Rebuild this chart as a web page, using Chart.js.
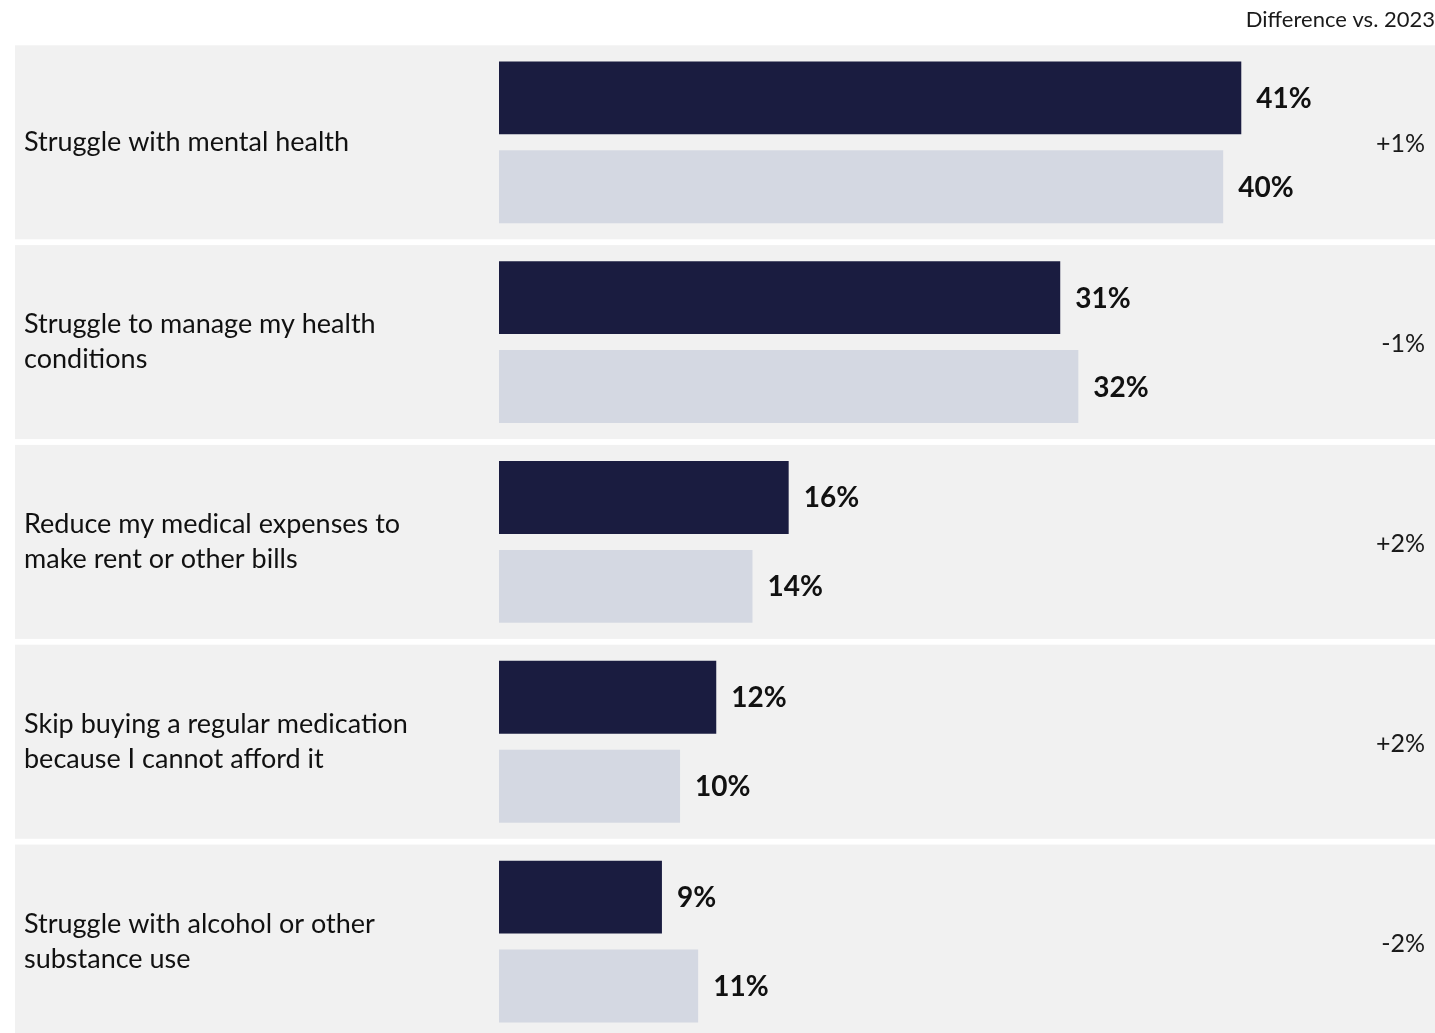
<!DOCTYPE html>
<html>
<head>
<meta charset="utf-8">
<script src="https://cdn.jsdelivr.net/npm/chart.js@4/dist/chart.umd.min.js"></script>
<style>
  html, body { margin: 0; padding: 0; background: #fff; overflow: hidden; }
  #wrap { position: relative; width: 1435px; height: 1059px; }
</style>
</head>
<body>
<div id="wrap"><canvas id="chart"></canvas></div>
<script>
var categories = [
  ['Struggle with mental health'],
  ['Struggle to manage my health', 'conditions'],
  ['Reduce my medical expenses to', 'make rent or other bills'],
  ['Skip buying a regular medication', 'because I cannot afford it'],
  ['Struggle with alcohol or other', 'substance use']
];
var values2024 = [41, 31, 16, 12, 9];
var values2023 = [40, 32, 14, 10, 11];
var diffLabels = ['+1%', '-1%', '+2%', '+2%', '-2%'];

var FONT = 'Lato, "Open Sans", sans-serif';

// grey band behind each category row (drawn before the axis labels)
var rowBands = {
  id: 'rowBands',
  beforeDraw: function(chart) {
    var ctx = chart.ctx;
    var y = chart.scales.y;
    ctx.save();
    ctx.fillStyle = '#f1f1f1';
    for (var i = 0; i < categories.length; i++) {
      var c = y.getPixelForValue(i);
      ctx.fillRect(15, c - 97, chart.width - 15, 194);
    }
    ctx.restore();
  }
};

// value at the end of each bar + the change column on the right
var barLabels = {
  id: 'barLabels',
  afterDatasetsDraw: function(chart) {
    var ctx = chart.ctx;
    ctx.save();
    ctx.fillStyle = '#111';
    ctx.textBaseline = 'middle';
    ctx.textAlign = 'left';
    ctx.font = 'bold 28px ' + FONT;
    chart.data.datasets.forEach(function(ds, di) {
      chart.getDatasetMeta(di).data.forEach(function(bar, i) {
        ctx.fillText(ds.data[i] + '%', bar.x + 15, bar.y + 1);
      });
    });
    ctx.textAlign = 'right';
    ctx.font = '25px ' + FONT;
    ctx.fillStyle = '#1a1a1a';
    var y = chart.scales.y;
    diffLabels.forEach(function(t, i) {
      ctx.fillText(t, 1425, y.getPixelForValue(i) + 2);
    });
    ctx.restore();
  }
};

new Chart(document.getElementById('chart'), {
  type: 'bar',
  data: {
    labels: categories,
    datasets: [
      {
        label: '2024',
        data: values2024,
        backgroundColor: '#1a1c40',
        categoryPercentage: 0.89,
        barPercentage: 0.82
      },
      {
        label: '2023',
        data: values2023,
        backgroundColor: '#d4d8e2',
        categoryPercentage: 0.89,
        barPercentage: 0.82
      }
    ]
  },
  options: {
    indexAxis: 'y',
    responsive: true,
    maintainAspectRatio: false,
    animation: false,
    layout: { padding: { left: 24, right: 0, top: 0, bottom: 0 } },
    plugins: {
      legend: { display: false },
      tooltip: { enabled: false },
      title: {
        display: true,
        text: 'Difference vs. 2023',
        align: 'end',
        color: '#1a1a1a',
        font: { family: FONT, size: 22, weight: 'normal' },
        padding: { top: 7, bottom: 9 }
      }
    },
    scales: {
      x: {
        display: false,
        min: 0,
        max: 51.7
      },
      y: {
        grid: { display: false },
        border: { display: false },
        afterFit: function(scale) { scale.width = 475; },
        ticks: {
          crossAlign: 'far',
          padding: 0,
          color: '#111',
          font: { family: FONT, size: 27, lineHeight: 1.3 }
        }
      }
    }
  },
  plugins: [rowBands, barLabels]
});
</script>
</body>
</html>
